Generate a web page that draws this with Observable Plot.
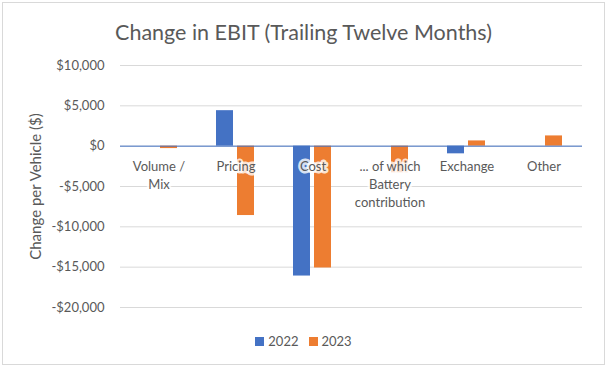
<!DOCTYPE html>
<html>
<head>
<meta charset="utf-8">
<script src="https://cdn.jsdelivr.net/npm/d3@7"></script>
<script src="https://cdn.jsdelivr.net/npm/@observablehq/plot@0.6"></script>
<style>
  body { margin: 0; background: #fff; font-family: Lato, "Open Sans", sans-serif; }
  #wrap { position: absolute; left: 2px; top: 2px; width: 601px; height: 361px; border: 1px solid #d9d9d9; background: #fff; }
  #title { padding-top: 17px; height: 24px; line-height: 24px; font-size: 21.5px; color: #595959; text-align: center; }
  #chart svg { display: block; }
  #legend { height: 14px; line-height: 14px; font-size: 13px; color: #595959; text-align: center; }
  #legend span.sw { display: inline-block; width: 9px; height: 9px; margin-right: 4px; }
  #legend span.item { margin: 0 5px; }
</style>
</head>
<body>
<div id="wrap">
  <div id="title">Change in EBIT (Trailing Twelve Months)</div>
  <div id="chart"></div>
  <div id="legend"></div>
</div>
<script>
const categories = ["Volume /\nMix", "Pricing", "Cost", "... of which\nBattery\ncontribution", "Exchange", "Other"];
const years = ["2022", "2023"];
const values2022 = [0, 4400, -16100, 0, -950, 0];
const values2023 = [-300, -8600, -15100, -3300, 650, 1270];
const colors = ["#4472C4", "#ED7D31"];
const yTicks = [10000, 5000, 0, -5000, -10000, -15000, -20000];
const yLabel = "Change per Vehicle ($)";

const data = [];
categories.forEach((c, i) => {
  data.push({category: c, year: years[0], value: values2022[i]});
  data.push({category: c, year: years[1], value: values2023[i]});
});

const fmt = d => (d < 0 ? "-" : "") + "$" + d3.format(",")(Math.abs(d));

const chart = Plot.plot({
  width: 601,
  height: 290,
  marginTop: 21,
  marginBottom: 27,
  marginLeft: 114,
  marginRight: 20,
  style: { fontFamily: "Lato, 'Open Sans', sans-serif", fontSize: "13px", color: "#595959", background: "#fff" },
  fx: { domain: categories, padding: 0, axis: null },
  x: { domain: years, paddingInner: 0.18, paddingOuter: 0.86, axis: null },
  y: { domain: [-20000, 10000] },
  color: { domain: years, range: colors },
  marks: [
    Plot.gridY(yTicks, { stroke: "#d9d9d9", strokeOpacity: 1 }),
    Plot.axisY(yTicks, { tickSize: 0, tickPadding: 16, tickFormat: fmt, fontSize: 13, label: null }),
    Plot.axisY({ ticks: [], tickSize: 0, label: yLabel, labelAnchor: "center", labelArrow: "none", labelOffset: 90 }),
    Plot.barY(data, { fx: "category", x: "year", y: "value", fill: "year" }),
    Plot.text(categories, { fx: d => d, y: () => 0, text: d => d, lineAnchor: "top", dy: 12, lineHeight: 1.4, fill: "#595959", fontSize: 13, stroke: "white", strokeOpacity: 0.8, strokeWidth: 5 }),
    Plot.ruleY([0], { stroke: "#4472C4", strokeWidth: 1 })
  ]
});
document.getElementById("chart").appendChild(chart);

// y-axis label font size
chart.querySelectorAll("text").forEach(t => {
  if (t.textContent === yLabel) t.setAttribute("font-size", 15);
});

const legend = document.getElementById("legend");
years.forEach((y, i) => {
  const item = document.createElement("span");
  item.className = "item";
  item.innerHTML = `<span class="sw" style="background:${colors[i]}"></span>${y}`;
  legend.appendChild(item);
});
</script>
</body>
</html>
